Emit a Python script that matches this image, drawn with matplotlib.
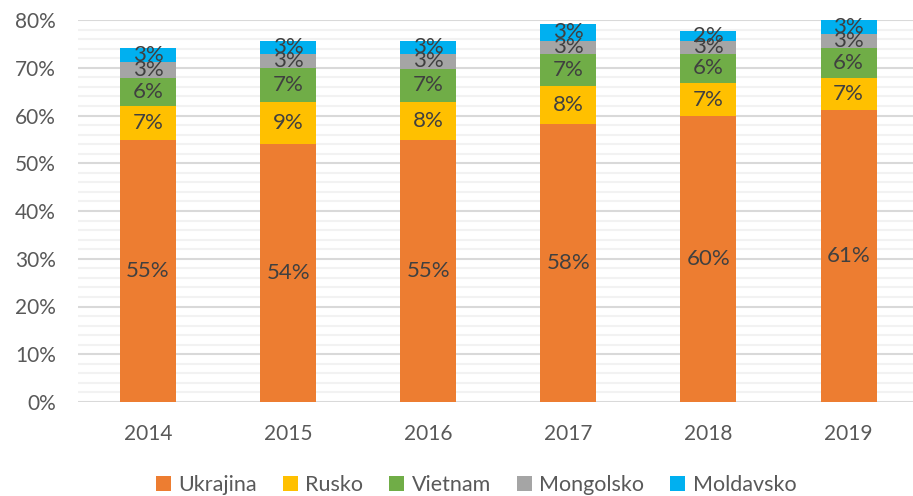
import matplotlib
matplotlib.use("Agg")
import matplotlib.pyplot as plt
from matplotlib.ticker import MultipleLocator, PercentFormatter
from matplotlib.patches import Patch
import numpy as np

plt.rcParams['font.family'] = ['Lato', 'DejaVu Sans']

years = ["2014", "2015", "2016", "2017", "2018", "2019"]
series_names = ["Ukrajina", "Rusko", "Vietnam", "Mongolsko", "Moldavsko"]
ukrajina = [54.8, 54.0, 54.8, 58.2, 59.8, 61.1]
rusko = [7.1, 8.8, 8.0, 7.9, 7.1, 6.7]
vietnam = [5.9, 7.1, 7.0, 6.7, 5.9, 6.3]
mongolsko = [3.3, 2.9, 3.1, 2.9, 2.9, 2.9]
moldavsko = [3.0, 2.9, 2.8, 3.4, 2.1, 2.9]
colors = ["#ED7D31", "#FFC000", "#70AD47", "#A5A5A5", "#00B0F0"]

data = [ukrajina, rusko, vietnam, mongolsko, moldavsko]

fig = plt.figure(figsize=(9.13, 4.96), dpi=100)
W, H = 913, 496
ax = fig.add_axes([78 / W, 1 - 402 / H, (913 - 78) / W, (402 - 20) / H])

x = np.arange(len(years))
bottom = np.zeros(len(years))
for vals, col in zip(data, colors):
    vals = np.array(vals)
    ax.bar(x, vals, 0.4, bottom=bottom, color=col, zorder=3)
    for xi, b, v in zip(x, bottom, vals):
        ax.text(xi, b + v / 2, f"{round(v):d}%", ha="center", va="center",
                fontsize=16, color="#404040", zorder=4)
    bottom += vals

ax.set_ylim(0, 80)
ax.set_xlim(-0.5, 5.46)
ax.yaxis.set_major_locator(MultipleLocator(10))
ax.yaxis.set_minor_locator(MultipleLocator(2))
ax.yaxis.set_major_formatter(PercentFormatter(decimals=0))
ax.grid(which="minor", axis="y", color="#F2F2F2", linewidth=1.5, zorder=0)
ax.grid(which="major", axis="y", color="#D9D9D9", linewidth=1.5, zorder=1)
ax.set_xticks(x)
ax.set_xticklabels(years)
for s in ax.spines.values():
    s.set_visible(False)
ax.tick_params(axis="both", which="both", length=0)
ax.tick_params(axis="y", labelsize=15, labelcolor="#595959", pad=16)
ax.tick_params(axis="x", labelsize=15, labelcolor="#595959", pad=16)

handles = [Patch(facecolor=c, edgecolor="none") for c in colors]
fig.legend(handles, series_names, loc="center", bbox_to_anchor=(476 / W, 1 - 485 / H),
           ncol=5, frameon=False, fontsize=15.5, handlelength=0.7, handleheight=0.7,
           handletextpad=0.35, columnspacing=1.2, labelcolor="#595959")

fig.savefig("out.png", dpi=100)
